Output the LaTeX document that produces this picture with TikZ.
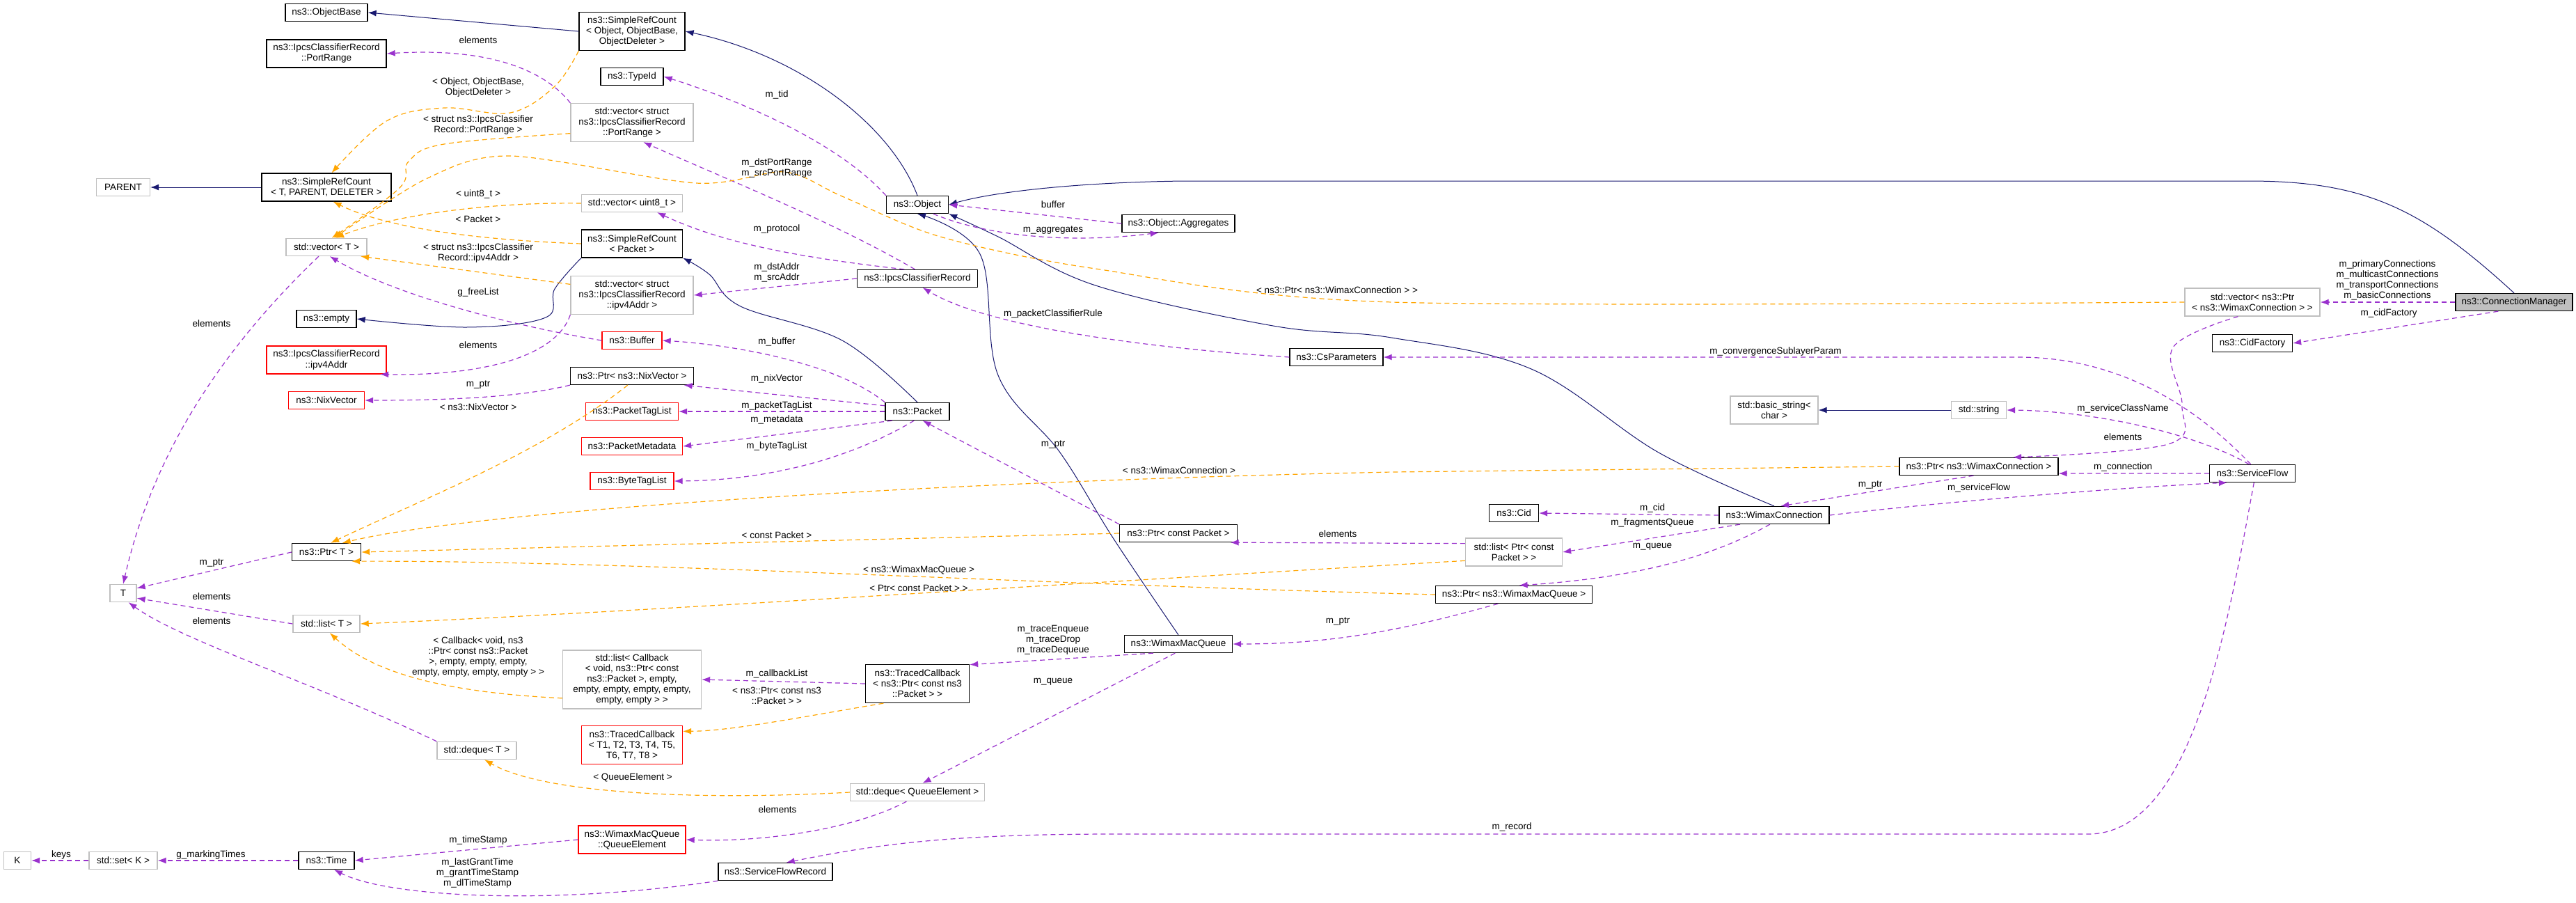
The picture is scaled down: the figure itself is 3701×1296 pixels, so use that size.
\documentclass[tikz,border=0pt]{standalone}
\usepackage{fontspec}
\setmainfont{Liberation Sans}
\usetikzlibrary{arrows.meta}
\definecolor{navy}{HTML}{191970}
\definecolor{purp}{HTML}{9A32CD}
\definecolor{orng}{HTML}{FFA500}
\definecolor{gbord}{HTML}{BFBFBF}
\begin{document}
\begin{tikzpicture}[x=1pt,y=1pt,
  every node/.style={font=\fontsize{13.5}{15}\selectfont},
  box/.style={rectangle,inner sep=0pt,align=center,line width=1.3pt},
  blk/.style={box,draw=black},
  gry/.style={box,draw=gbord},
  rd/.style={box,draw=red},
  cmst/.style={box,draw=black,fill=gbord},
  lbl/.style={inner sep=0pt,align=center},
  nv/.style={draw=navy,line width=1pt,-{Latex[length=12pt,width=9pt]}},
  pl/.style={draw=purp,line width=1.2pt,dash pattern=on 7pt off 5pt,-{Latex[length=12pt,width=9pt]}},
  ol/.style={draw=orng,line width=1.2pt,dash pattern=on 7pt off 5pt,-{Latex[length=12pt,width=9pt]}}]
\useasboundingbox (0,0) rectangle (3701,-1296);
% nodes
\node[blk,minimum width=118pt,minimum height=25pt] (objbase) at (469,-18) {ns3::ObjectBase};
\node[blk,minimum width=152pt,minimum height=55pt] (srcobj) at (908,-45) {ns3::SimpleRefCount\\< Object, ObjectBase,\\ObjectDeleter >};
\node[blk,minimum width=172pt,minimum height=40pt] (pr) at (469,-77) {ns3::IpcsClassifierRecord\\::PortRange};
\node[blk,minimum width=90pt,minimum height=25pt] (typeid) at (908,-110) {ns3::TypeId};
\node[gry,minimum width=176pt,minimum height=55pt] (vpr) at (908,-176) {std::vector< struct\\ns3::IpcsClassifierRecord\\::PortRange >};
\node[gry,minimum width=77pt,minimum height=25pt] (parent) at (177,-269) {PARENT};
\node[blk,minimum width=186pt,minimum height=40pt] (srctpd) at (469,-269) {ns3::SimpleRefCount\\< T, PARENT, DELETER >};
\node[gry,minimum width=145pt,minimum height=25pt] (vu8) at (908,-292) {std::vector< uint8\_t >};
\node[blk,minimum width=145pt,minimum height=40pt] (srcpkt) at (908,-350) {ns3::SimpleRefCount\\< Packet >};
\node[gry,minimum width=116pt,minimum height=25pt] (vt) at (469,-355) {std::vector< T >};
\node[gry,minimum width=176pt,minimum height=55pt] (vip) at (908,-424) {std::vector< struct\\ns3::IpcsClassifierRecord\\::ipv4Addr >};
\node[blk,minimum width=86pt,minimum height=25pt] (empty) at (469,-458) {ns3::empty};
\node[rd,minimum width=86pt,minimum height=25pt] (buf) at (908,-489) {ns3::Buffer};
\node[rd,minimum width=172pt,minimum height=40pt] (ip4) at (469,-517) {ns3::IpcsClassifierRecord\\::ipv4Addr};
\node[blk,minimum width=177pt,minimum height=25pt] (pnix) at (908,-540) {ns3::Ptr< ns3::NixVector >};
\node[rd,minimum width=109pt,minimum height=25pt] (nix) at (469,-575) {ns3::NixVector};
\node[rd,minimum width=133pt,minimum height=25pt] (ptl) at (908,-591) {ns3::PacketTagList};
\node[rd,minimum width=145pt,minimum height=25pt] (pmd) at (908,-641) {ns3::PacketMetadata};
\node[rd,minimum width=120pt,minimum height=25pt] (btl) at (908,-691) {ns3::ByteTagList};
\node[blk,minimum width=99pt,minimum height=25pt] (ptrt) at (469,-793) {ns3::Ptr< T >};
\node[gry,minimum width=38pt,minimum height=25pt] (tt) at (177,-852) {T};
\node[gry,minimum width=96pt,minimum height=25pt] (lt) at (469,-896) {std::list< T >};
\node[gry,minimum width=199pt,minimum height=84pt] (lcb) at (908,-976) {std::list< Callback\\< void, ns3::Ptr< const\\ns3::Packet >, empty,\\empty, empty, empty, empty,\\empty, empty > >};
\node[rd,minimum width=145pt,minimum height=55pt] (tct) at (908,-1070) {ns3::TracedCallback\\< T1, T2, T3, T4, T5,\\T6, T7, T8 >};
\node[gry,minimum width=114pt,minimum height=25pt] (dqt) at (685,-1078) {std::deque< T >};
\node[rd,minimum width=154pt,minimum height=40pt] (qe) at (908,-1206) {ns3::WimaxMacQueue\\::QueueElement};
\node[gry,minimum width=39pt,minimum height=25pt] (kk) at (25,-1236) {K};
\node[gry,minimum width=98pt,minimum height=25pt] (setk) at (177,-1236) {std::set< K >};
\node[blk,minimum width=80pt,minimum height=25pt] (time) at (469,-1236) {ns3::Time};
\node[blk,minimum width=89pt,minimum height=25pt] (obj) at (1318,-294) {ns3::Object};
\node[blk,minimum width=162pt,minimum height=25pt] (agg) at (1693,-321) {ns3::Object::Aggregates};
\node[blk,minimum width=173pt,minimum height=25pt] (ipcs) at (1318,-400) {ns3::IpcsClassifierRecord};
\node[blk,minimum width=134pt,minimum height=25pt] (csp) at (1920,-513) {ns3::CsParameters};
\node[blk,minimum width=92pt,minimum height=25pt] (pkt) at (1318,-591) {ns3::Packet};
\node[blk,minimum width=169pt,minimum height=25pt] (pcp) at (1693,-766) {ns3::Ptr< const Packet >};
\node[blk,minimum width=155pt,minimum height=25pt] (wmq) at (1693,-925) {ns3::WimaxMacQueue};
\node[blk,minimum width=149pt,minimum height=55pt] (tcp) at (1318,-982) {ns3::TracedCallback\\< ns3::Ptr< const ns3\\::Packet > >};
\node[gry,minimum width=193pt,minimum height=25pt] (dqqe) at (1318,-1138) {std::deque< QueueElement >};
\node[blk,minimum width=164pt,minimum height=25pt] (sfr) at (1114,-1252) {ns3::ServiceFlowRecord};
\node[gry,minimum width=126pt,minimum height=40pt] (bstr) at (2549,-589) {std::basic\_string<\\char >};
\node[gry,minimum width=79pt,minimum height=25pt] (str) at (2843,-589) {std::string};
\node[gry,minimum width=194pt,minimum height=40pt] (vpwc) at (3236,-434) {std::vector< ns3::Ptr\\< ns3::WimaxConnection > >};
\node[cmst,minimum width=168pt,minimum height=25pt] (cm) at (3612,-434) {ns3::ConnectionManager};
\node[blk,minimum width=115pt,minimum height=25pt] (cidf) at (3236,-493) {ns3::CidFactory};
\node[blk,minimum width=123pt,minimum height=25pt] (sf) at (3236,-680) {ns3::ServiceFlow};
\node[blk,minimum width=228pt,minimum height=25pt] (pwc) at (2843,-670) {ns3::Ptr< ns3::WimaxConnection >};
\node[blk,minimum width=71pt,minimum height=25pt] (cid) at (2175,-737) {ns3::Cid};
\node[blk,minimum width=158pt,minimum height=25pt] (wc) at (2549,-740) {ns3::WimaxConnection};
\node[gry,minimum width=139pt,minimum height=40pt] (lpcp) at (2175,-793) {std::list< Ptr< const\\Packet > >};
\node[blk,minimum width=225pt,minimum height=25pt] (pwmq) at (2175,-854) {ns3::Ptr< ns3::WimaxMacQueue >};
% navy inheritance
\draw[nv] (srcobj.west) -- (objbase.east);
\draw[nv] (obj.north) .. controls (1280,-180) and (1150,-80) .. (srcobj.east);
\draw[nv] (srctpd.west) -- (parent.east);
\draw[nv] plot[smooth,tension=0.6] coordinates {(srcpkt.south west) (797,-415) (784,-456) (670,-470) (empty.east)};
\draw[nv] plot[smooth,tension=0.6] coordinates {(pkt.north) (1210,-489) (1064,-440) (1019,-394) (srcpkt.south east)};
\draw[nv] (cm.north) .. controls (3480,-300) and (3400,-260) .. (3230,-260) -- (1700,-260) .. controls (1550,-262) and (1430,-275) .. (obj.east);
\draw[nv] plot[smooth,tension=0.6] coordinates {(wc.north) (2383,-650) (2200,-530) (1999,-485) (1829,-468) (1574,-410) (1434,-340) (obj.south east)};
\draw[nv] plot[smooth,tension=0.6] coordinates {(wmq.north) (1600,-774) (1523,-650) (1434,-539) (1408,-365) (obj.south)};
\draw[nv] (str.west) -- (bstr.east);
% purple members
\draw[pl] (vpr.north west) .. controls (790,-110) and (720,-67) .. (pr.east);
\draw[pl] (obj.north west) .. controls (1200,-200) and (1050,-140) .. (typeid.east);
\draw[pl] (agg.west) -- (obj.east);
\draw[pl] (obj.-30) .. controls (1420,-340) and (1540,-350) .. (agg.205);
\draw[pl] (ipcs.105) .. controls (1200,-320) and (1050,-260) .. (vpr.-60);
\draw[pl] (ipcs.145) .. controls (1150,-370) and (1040,-350) .. (vu8.-20);
\draw[pl] (ipcs.west) -- (vip.east);
\draw[pl] (buf.west) .. controls (720,-465) and (560,-420) .. (vt.-70);
\draw[pl] (vip.south west) .. controls (800,-510) and (700,-540) .. (ip4.-15);
\draw[pl] (pnix.south west) .. controls (750,-570) and (650,-575) .. (nix.east);
\draw[pl] (pkt.north west) .. controls (1200,-520) and (1050,-495) .. (buf.east);
\draw[pl] (pkt.170) -- (pnix.-10);
\draw[pl] (pkt.west) -- (ptl.east);
\draw[pl] (pkt.200) -- (pmd.east);
\draw[pl] (pkt.-110) .. controls (1220,-660) and (1100,-690) .. (btl.east);
\draw[pl] (csp.west) .. controls (1650,-500) and (1420,-470) .. (ipcs.-60);
\draw[pl] (vt.-130) .. controls (320,-500) and (220,-650) .. (tt.north);
\draw[pl] (ptrt.west) -- (tt.20);
\draw[pl] (lt.west) -- (tt.-20);
\draw[pl] (dqt.north west) .. controls (450,-980) and (260,-920) .. (tt.-60);
\draw[pl] (setk.west) -- (kk.east);
\draw[pl] (time.west) -- (setk.east);
\draw[pl] (qe.west) -- (time.east);
\draw[pl] (sfr.south west) .. controls (800,-1300) and (560,-1290) .. (time.-50);
\draw[pl] (pcp.north west) -- (pkt.-60);
\draw[pl] (lpcp.170) -- (pcp.-10);
\draw[pl] (tcp.west) -- (lcb.east);
\draw[pl] (wmq.200) -- (tcp.20);
\draw[pl] (wmq.-110) -- (dqqe.60);
\draw[pl] (dqqe.-140) .. controls (1230,-1190) and (1100,-1210) .. (qe.east);
\draw[pl] (pwmq.-150) .. controls (2000,-910) and (1900,-925) .. (wmq.east);
\draw[pl] (wc.west) -- (cid.east);
\draw[pl] (wc.-165) -- (lpcp.east);
\draw[pl] (wc.-115) .. controls (2460,-800) and (2350,-830) .. (pwmq.60);
\draw[pl] (pwc.-120) -- (wc.55);
\draw[pl] (wc.east) .. controls (2800,-720) and (3050,-700) .. (sf.200);
\draw[pl] (sf.west) -- (pwc.-5);
\draw[pl] plot[smooth,tension=0.6] coordinates {(vpwc.-135) (3122,-499) (3135,-582) (3115,-638) (pwc.15)};
\draw[pl] (sf.110) .. controls (3150,-620) and (3000,-590) .. (str.east);
\draw[pl] (sf.100) .. controls (3170,-600) and (3060,-513) .. (2900,-513) -- (csp.east);
\draw[pl] (sf.-80) .. controls (3200,-900) and (3150,-1198) .. (3000,-1198) -- (1600,-1198) .. controls (1350,-1198) and (1250,-1215) .. (sfr.40);
\draw[pl] (cm.west) -- (vpwc.east);
\draw[pl] (cm.-150) -- (cidf.east);
% orange templates
\draw[ol] plot[smooth,tension=0.6] coordinates {(srcobj.south west) (797,-124) (733,-162) (638,-155) (555,-174) (srctpd.70)};
\draw[ol] plot[smooth,tension=0.6] coordinates {(vpr.190) (638,-207) (587,-232) (574,-270) (vt.60)};
\draw[ol] plot[smooth,tension=0.5] coordinates {(vpwc.west) (2000,-434) (1574,-386) (1351,-340) (1210,-282) (1127,-247) (1000,-263) (733,-224) (612,-257) (vt.50)};
\draw[ol] (vu8.west) .. controls (700,-290) and (560,-310) .. (vt.45);
\draw[ol] (srcpkt.west) .. controls (700,-345) and (560,-330) .. (srctpd.-65);
\draw[ol] (vip.170) -- (vt.-15);
\draw[ol] (pnix.-115) .. controls (780,-650) and (600,-720) .. (ptrt.65);
\draw[ol] (pwc.west) -- (2000,-678) .. controls (1400,-690) and (700,-730) .. (ptrt.30);
\draw[ol] (pcp.west) -- (ptrt.east);
\draw[ol] (pwmq.west) .. controls (1500,-840) and (900,-805) .. (ptrt.-20);
\draw[ol] (lpcp.-170) .. controls (1500,-840) and (900,-880) .. (lt.east);
\draw[ol] (lcb.-165) .. controls (650,-995) and (540,-970) .. (lt.-70);
\draw[ol] (tcp.-150) .. controls (1150,-1030) and (1050,-1050) .. (tct.15);
\draw[ol] (dqqe.west) .. controls (1000,-1150) and (780,-1140) .. (dqt.-50);
% labels
\node[lbl] (l1) at (687,-58) {elements};
\node[lbl] (l2) at (687,-126) {< Object, ObjectBase,\\ObjectDeleter >};
\node[lbl] (l3) at (687,-180) {< struct ns3::IpcsClassifier\\Record::PortRange >};
\node[lbl] (l4) at (687,-279) {< uint8\_t >};
\node[lbl] (l5) at (687,-315) {< Packet >};
\node[lbl] (l6) at (687,-364) {< struct ns3::IpcsClassifier\\Record::ipv4Addr >};
\node[lbl] (l7) at (687,-420) {g\_freeList};
\node[lbl] (l8) at (687,-496) {elements};
\node[lbl] (l9) at (687,-553) {m\_ptr};
\node[lbl] (l10) at (687,-585) {< ns3::NixVector >};
\node[lbl] (l11) at (304,-465) {elements};
\node[lbl] (l12) at (304,-809) {m\_ptr};
\node[lbl] (l13) at (304,-857) {elements};
\node[lbl] (l14) at (304,-892) {elements};
\node[lbl] (l15) at (687,-943) {< Callback< void, ns3\\::Ptr< const ns3::Packet\\>, empty, empty, empty,\\empty, empty, empty, empty > >};
\node[lbl] (l16) at (909,-1117) {< QueueElement >};
\node[lbl] (l17) at (88,-1228) {keys};
\node[lbl] (l18) at (303,-1228) {g\_markingTimes};
\node[lbl] (l19) at (687,-1207) {m\_timeStamp};
\node[lbl] (l20) at (686,-1254) {m\_lastGrantTime\\m\_grantTimeStamp\\m\_dlTimeStamp};
\node[lbl] (l21) at (1116,-136) {m\_tid};
\node[lbl] (l22) at (1116,-242) {m\_dstPortRange\\m\_srcPortRange};
\node[lbl] (l23) at (1116,-329) {m\_protocol};
\node[lbl] (l24) at (1116,-391) {m\_dstAddr\\m\_srcAddr};
\node[lbl] (l25) at (1513,-294) {buffer};
\node[lbl] (l26) at (1513,-331) {m\_aggregates};
\node[lbl] (l27) at (1513,-451) {m\_packetClassifierRule};
\node[lbl] (l28) at (1116,-491) {m\_buffer};
\node[lbl] (l29) at (1116,-544) {m\_nixVector};
\node[lbl] (l30) at (1116,-583) {m\_packetTagList};
\node[lbl] (l31) at (1116,-603) {m\_metadata};
\node[lbl] (l32) at (1116,-641) {m\_byteTagList};
\node[lbl] (l33) at (1513,-639) {m\_ptr};
\node[lbl] (l34) at (1921,-417) {< ns3::Ptr< ns3::WimaxConnection > >};
\node[lbl] (l35) at (1694,-676) {< ns3::WimaxConnection >};
\node[lbl] (l36) at (1116,-769) {< const Packet >};
\node[lbl] (l37) at (1922,-767) {elements};
\node[lbl] (l38) at (1320,-819) {< ns3::WimaxMacQueue >};
\node[lbl] (l39) at (1320,-845) {< Ptr< const Packet > >};
\node[lbl] (l40) at (1922,-893) {m\_ptr};
\node[lbl] (l41) at (1513,-919) {m\_traceEnqueue\\m\_traceDrop\\m\_traceDequeue};
\node[lbl] (l42) at (1116,-968) {m\_callbackList};
\node[lbl] (l43) at (1116,-999) {< ns3::Ptr< const ns3\\::Packet > >};
\node[lbl] (l44) at (1513,-979) {m\_queue};
\node[lbl] (l45) at (1117,-1163) {elements};
\node[lbl] (l46) at (2172,-1188) {m\_record};
\node[lbl] (l47) at (2551,-505) {m\_convergenceSublayerParam};
\node[lbl] (l48) at (3430,-402) {m\_primaryConnections\\m\_multicastConnections\\m\_transportConnections\\m\_basicConnections};
\node[lbl] (l49) at (3432,-450) {m\_cidFactory};
\node[lbl] (l50) at (3050,-587) {m\_serviceClassName};
\node[lbl] (l51) at (3050,-628) {elements};
\node[lbl] (l52) at (3050,-671) {m\_connection};
\node[lbl] (l53) at (2687,-697) {m\_ptr};
\node[lbl] (l54) at (2843,-701) {m\_serviceFlow};
\node[lbl] (l55) at (2374,-730) {m\_cid};
\node[lbl] (l56) at (2374,-751) {m\_fragmentsQueue};
\node[lbl] (l57) at (2374,-785) {m\_queue};
\end{tikzpicture}
\end{document}
